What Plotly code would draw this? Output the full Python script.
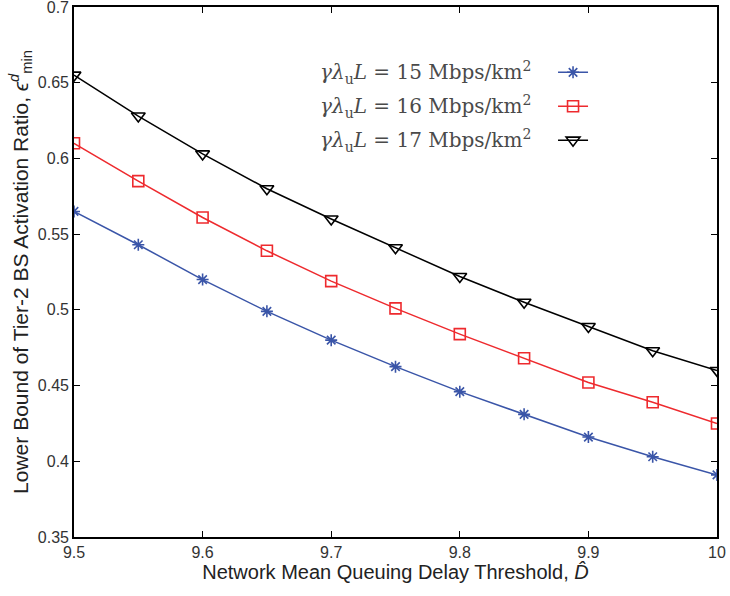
import plotly.graph_objects as go

x_vals = [9.5, 9.55, 9.6, 9.65, 9.7, 9.75, 9.8, 9.85, 9.9, 9.95, 10.0]
y_15 = [0.565, 0.543, 0.520, 0.499, 0.480, 0.4625, 0.446, 0.431, 0.416, 0.403, 0.391]
y_16 = [0.610, 0.585, 0.561, 0.539, 0.519, 0.501, 0.484, 0.468, 0.452, 0.439, 0.425]
y_17 = [0.655, 0.628, 0.603, 0.580, 0.560, 0.541, 0.522, 0.505, 0.489, 0.473, 0.460]
rates = ["15", "16", "17"]
x_ticks = [9.5, 9.6, 9.7, 9.8, 9.9, 10]
x_ticktext = ["9.5", "9.6", "9.7", "9.8", "9.9", "10"]
y_ticks = [0.35, 0.4, 0.45, 0.5, 0.55, 0.6, 0.65, 0.7]
y_ticktext = ["0.35", "0.4", "0.45", "0.5", "0.55", "0.6", "0.65", "0.7"]

series = [
    (y_15, "#3a55a8", "asterisk-open", 10, "legend"),
    (y_16, "#ee2a2e", "square-open", 11, "legend2"),
    (y_17, "#000000", "triangle-down-open", 12, "legend3"),
]

fig = go.Figure()
for ys, col, sym, sz, lg in series:
    fig.add_trace(go.Scatter(
        x=x_vals, y=ys, mode="lines+markers", name="\u200b",
        line=dict(color=col, width=1.5),
        marker=dict(symbol=sym, size=sz, color=col, line=dict(color=col, width=1.6)),
        legend=lg, showlegend=True,
    ))

leg_y = [0.876, 0.812, 0.748]
leg_common = dict(x=0.745, xanchor="left", yanchor="middle", bgcolor="rgba(0,0,0,0)",
                  borderwidth=0, font=dict(size=14), itemwidth=30)
fig.update_layout(
    legend=dict(y=leg_y[0], **leg_common),
    legend2=dict(y=leg_y[1], **leg_common),
    legend3=dict(y=leg_y[2], **leg_common),
)

for r, yy in zip(rates, leg_y):
    fig.add_annotation(
        x=0.714, y=yy, xref="paper", yref="paper", xanchor="right", yanchor="middle",
        showarrow=False,
        text=f"<i>γλ</i><sub>u</sub><i>L</i> = {r} Mbps/km<sup>2</sup>",
        font=dict(family="DejaVu Serif", size=20, color="#4a4a4a"),
    )

axis_common = dict(
    showgrid=False, zeroline=False, showline=True, linecolor="black", linewidth=1.6,
    mirror="allticks", ticks="inside", ticklen=6, tickcolor="black", tickwidth=1.3,
    tickfont=dict(family="Liberation Sans", size=16, color="#333333"),
    ticklabeloverflow="allow", automargin=False,
)

fig.update_xaxes(range=[9.5, 10], tickvals=x_ticks, ticktext=x_ticktext,
                 title=dict(text="Network Mean Queuing Delay Threshold, <i>D̂</i>",
                            font=dict(family="Liberation Sans", size=20, color="#222222"),
                            standoff=0),
                 **axis_common)
fig.update_yaxes(range=[0.35, 0.7], tickvals=y_ticks, ticktext=y_ticktext,
                 title=dict(text="Lower Bound of Tier-2 BS Activation Ratio, <i>ϵ</i><sup><i>d</i></sup><sub>min</sub>",
                            font=dict(family="Liberation Sans", size=21, color="#222222"),
                            standoff=4),
                 **axis_common)

fig.update_layout(
    width=730, height=596,
    margin=dict(l=74, r=13, t=7, b=59, autoexpand=False),
    plot_bgcolor="white", paper_bgcolor="white",
)

fig.write_html("out.html")
